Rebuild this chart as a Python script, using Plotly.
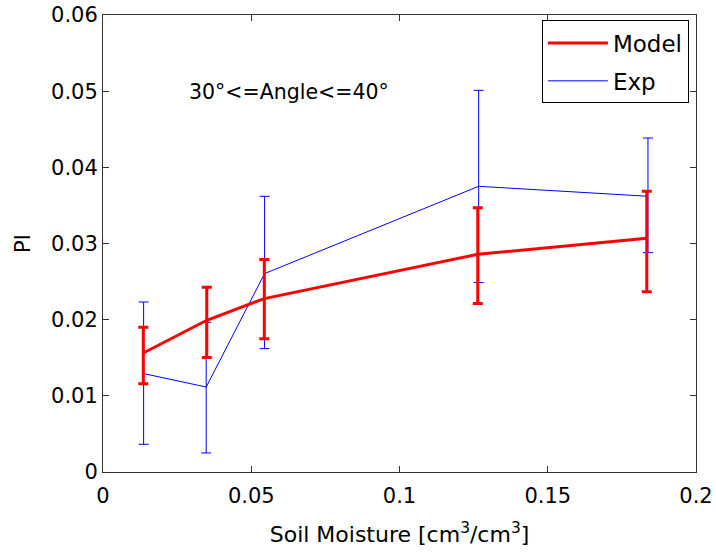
import plotly.graph_objects as go

# Data
model_x = [0.0136, 0.0350, 0.0544, 0.1264, 0.1834]
model_y = [0.01562, 0.01992, 0.02277, 0.02858, 0.03068]
model_hi = [0.01900, 0.02425, 0.02789, 0.03471, 0.03685]
model_lo = [0.01160, 0.01502, 0.01751, 0.02211, 0.02368]

exp_x = [0.0137, 0.0348, 0.0545, 0.1267, 0.1838]
exp_y = [0.01292, 0.01116, 0.02605, 0.03751, 0.03620]
exp_hi = [0.02232, 0.01965, 0.03620, 0.05011, 0.04385]
exp_lo = [0.00364, 0.00250, 0.01620, 0.02487, 0.02880]

x_ticks = [0, 0.05, 0.1, 0.15, 0.2]
x_tick_labels = ["0", "0.05", "0.1", "0.15", "0.2"]
y_ticks = [0, 0.01, 0.02, 0.03, 0.04, 0.05, 0.06]
y_tick_labels = ["0", "0.01", "0.02", "0.03", "0.04", "0.05", "0.06"]

FONT = "DejaVu Sans, sans-serif"

fig = go.Figure()
# Exp first so the thick red model bars are drawn on top
fig.add_trace(go.Scatter(
    x=exp_x, y=exp_y, mode="lines", name="Exp", legendrank=2, legendgroup="exp",
    line=dict(color="#0000ff", width=1),
    error_y=dict(type="data", symmetric=False,
                 array=[h - c for h, c in zip(exp_hi, exp_y)],
                 arrayminus=[c - l for l, c in zip(exp_lo, exp_y)],
                 color="#0000ff", thickness=1, width=5),
))
fig.add_trace(go.Scatter(
    x=model_x, y=model_y, mode="lines", name="Model", legendrank=1, legendgroup="model",
    line=dict(color="#ff0000", width=3),
    error_y=dict(type="data", symmetric=False,
                 array=[h - c for h, c in zip(model_hi, model_y)],
                 arrayminus=[c - l for l, c in zip(model_lo, model_y)],
                 color="#ff0000", thickness=3, width=5),
))

axis_common = dict(
    showline=True, linecolor="#333333", linewidth=1, mirror="ticks",
    ticks="inside", ticklen=6, tickcolor="#333333", showgrid=False,
    zeroline=False, automargin=False,
    tickfont=dict(family=FONT, size=21, color="#000000"),
)

fig.update_layout(
    width=716, height=554,
    margin=dict(l=103, r=20, t=15, b=82),
    paper_bgcolor="#ffffff", plot_bgcolor="#ffffff",
    font=dict(family=FONT, size=21, color="#000000"),
    xaxis=dict(range=[0, 0.2], tickvals=x_ticks, ticktext=x_tick_labels,
               ticklabelstandoff=5,
               title=dict(text="Soil Moisture [cm<sup>3</sup>/cm<sup>3</sup>]",
                          font=dict(family=FONT, size=22), standoff=19),
               **axis_common),
    yaxis=dict(range=[0, 0.06], tickvals=y_ticks, ticktext=y_tick_labels,
               title=dict(text="PI", font=dict(family=FONT, size=21), standoff=14),
               **axis_common),
    legend=dict(x=0.988, y=0.988, xanchor="right", yanchor="top",
                bgcolor="#ffffff", bordercolor="#000000", borderwidth=1,
                font=dict(family=FONT, size=23), tracegroupgap=5,
                traceorder="grouped", itemwidth=60),
    showlegend=True,
    annotations=[dict(x=0.0627, y=0.04985, xref="x", yref="y",
                      text="30°<=Angle<=40°", showarrow=False,
                      font=dict(family=FONT, size=20.5, color="#000000"))],
)

fig.write_html("out.html", config={"displayModeBar": False},
               post_script="document.body.style.margin='0';document.body.style.overflow='hidden';")
